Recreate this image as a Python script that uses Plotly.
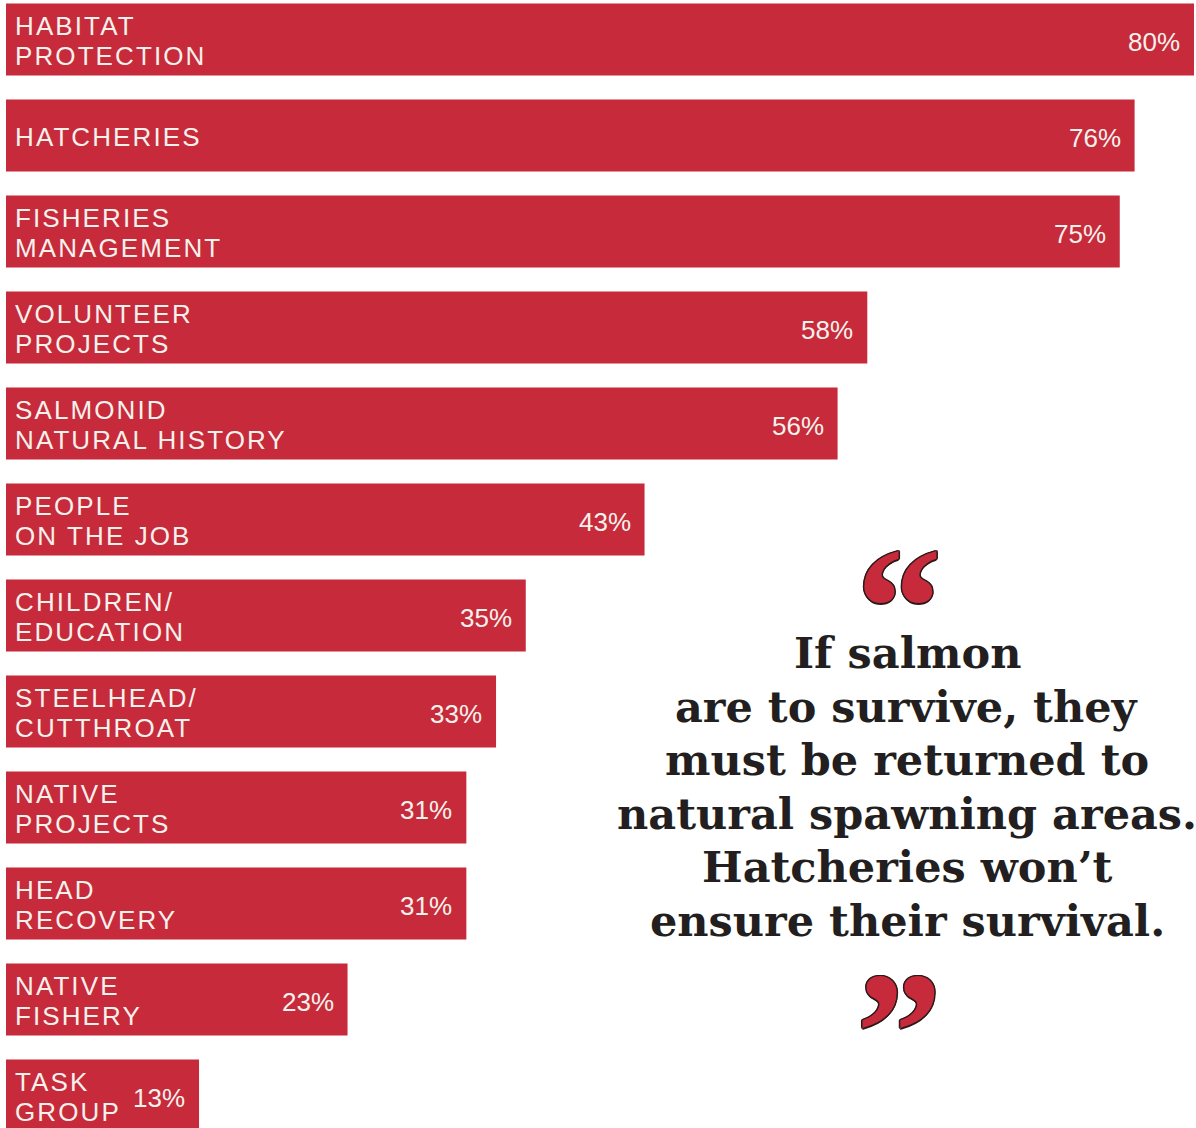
import plotly.graph_objects as go

# ---- data ----
categories = [
    "HABITAT\nPROTECTION", "HATCHERIES", "FISHERIES\nMANAGEMENT",
    "VOLUNTEER\nPROJECTS", "SALMONID\nNATURAL HISTORY", "PEOPLE\nON THE JOB",
    "CHILDREN/\nEDUCATION", "STEELHEAD/\nCUTTHROAT", "NATIVE\nPROJECTS",
    "HEAD\nRECOVERY", "NATIVE\nFISHERY", "TASK\nGROUP",
]
values = [80, 76, 75, 58, 56, 43, 35, 33, 31, 31, 23, 13]
value_labels = [f"{v}%" for v in values]
quote_lines = [
    "If salmon",
    "are to survive, they",
    "must be returned to",
    "natural spawning areas.",
    "Hatcheries won’t",
    "ensure their survival.",
]

RED = "#C62A3B"
TEXT_LIGHT = "#F7F1EC"
INK = "#231F20"
W, H = 1196, 1128
LEFT = 6
PX_PER_PCT = 14.85
LABEL_FONT = "Liberation Sans, Arial, sans-serif"

keys = [c.replace("\n", " ") for c in categories]

fig = go.Figure(
    go.Bar(
        x=values, y=keys, orientation="h",
        marker=dict(color=RED, line=dict(width=0)),
        width=0.75, hoverinfo="skip",
    )
)

annotations = []
LINE_PITCH = 30
for key, cat in zip(keys, categories):
    lines = cat.split("\n")
    nl = len(lines)
    for i, l in enumerate(lines):
        offset = (i - (nl - 1) / 2) * LINE_PITCH
        annotations.append(dict(
            x=0, y=key, xref="x", yref="y",
            text=f'<span style="letter-spacing:2.1px">{l}</span>', showarrow=False,
            xanchor="left", yanchor="middle", xshift=7, yshift=-offset - 1, align="left",
            font=dict(family=LABEL_FONT, size=26, color=TEXT_LIGHT),
        ))
for key, v, lab in zip(keys, values, value_labels):
    annotations.append(dict(
        x=v, y=key, xref="x", yref="y", text=lab, showarrow=False,
        xanchor="right", yanchor="middle", xshift=-12, yshift=-2,
        font=dict(family=LABEL_FONT, size=26, color=TEXT_LIGHT),
    ))

def px_x(px):
    return (px - LEFT) / (W - LEFT)

def px_y(py):
    return 1 - py / H

Q_FIRST, Q_PITCH = 653, 53.6
for i, line in enumerate(quote_lines):
    annotations.append(dict(
        x=px_x(907), y=px_y(Q_FIRST + i * Q_PITCH), xref="paper", yref="paper",
        text=line, showarrow=False,
        xanchor="center", yanchor="middle", align="center",
        font=dict(family="DejaVu Serif, serif", size=43, color=INK, weight="bold"),
    ))

outline = ("1.5px 0 0 #2a1a1a, -1.5px 0 0 #2a1a1a, 0 1.5px 0 #2a1a1a, 0 -1.5px 0 #2a1a1a, "
           "1px 1px 0 #2a1a1a, -1px -1px 0 #2a1a1a, 1px -1px 0 #2a1a1a, -1px 1px 0 #2a1a1a")
QFONT = dict(family="Liberation Serif, Times New Roman, serif", size=172, color=RED,
             weight="bold", shadow=outline)
annotations.append(dict(
    x=px_x(899), y=px_y(510), xref="paper", yref="paper",
    text="“", showarrow=False, xanchor="center", yanchor="top",
    height=100, valign="top", font=QFONT,
))
annotations.append(dict(
    x=px_x(899), y=px_y(935), xref="paper", yref="paper",
    text="”", showarrow=False, xanchor="center", yanchor="top",
    height=100, valign="top", font=QFONT,
))

pitch = 96.0
first_center = 39.5
y_top = -first_center / pitch
y_bot = (H - first_center) / pitch

fig.update_layout(
    width=W, height=H,
    margin=dict(l=LEFT, r=0, t=0, b=0),
    paper_bgcolor="white", plot_bgcolor="white",
    showlegend=False,
    xaxis=dict(range=[0, (W - LEFT) / PX_PER_PCT], visible=False, fixedrange=True),
    yaxis=dict(type="category", range=[y_bot, y_top], visible=False, fixedrange=True),
    annotations=annotations,
    bargap=0.25,
)

fig.write_html("out.html", config={"displayModeBar": False})
